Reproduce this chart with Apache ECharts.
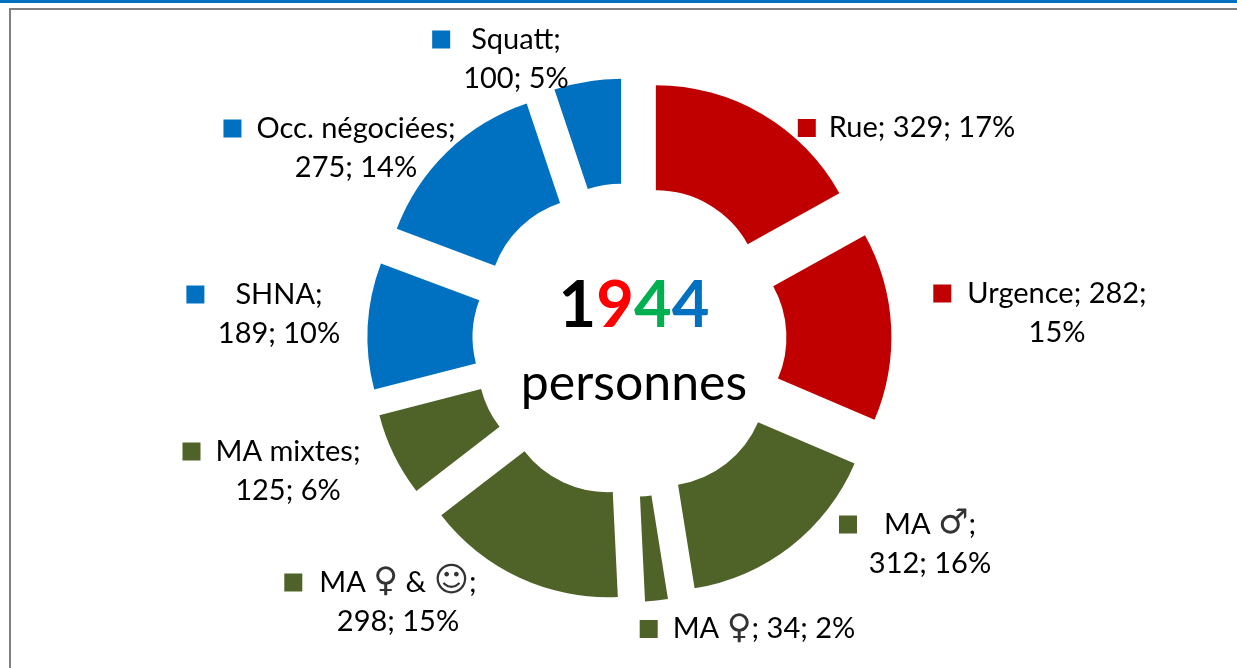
<!DOCTYPE html>
<html>
<head>
<meta charset="utf-8">
<style>
  html, body { margin: 0; padding: 0; background: #fff; }
  #main { width: 1237px; height: 668px; }
</style>
<script src="https://cdn.jsdelivr.net/npm/echarts@6/dist/echarts.min.js"></script>
</head>
<body>
<div id="main"></div>
<script>
const FONT = 'Lato, "DejaVu Sans", sans-serif';
const SYMBOL_FONT = '"DejaVu Sans", sans-serif';

const categories = ['Rue', 'Urgence', 'MA ♂', 'MA ♀', 'MA ♀ & ☺', 'MA mixtes', 'SHNA', 'Occ. négociées', 'Squatt'];
const values = [329, 282, 312, 34, 298, 125, 189, 275, 100];
const colors = ['#C00000', '#C00000', '#4F6228', '#4F6228', '#4F6228', '#4F6228', '#0070C0', '#0070C0', '#0070C0'];

// where each label wraps: 0 = no wrap, 1 = after the name, 2 = after the value
const labelWraps = [0, 2, 1, 0, 1, 1, 1, 1, 1];
const labelCentersX = [922, 1057, 930, 764, 398, 288, 279, 356, 516];
const labelCentersY = [128, 313, 544, 629, 602, 471, 314, 148, 59];
const squareGaps = [13, 16, 27, 15, 17, 15, 31, 15, 21];

const totalDigits = ['1', '9', '4', '4'];
const digitColors = ['#000000', '#FF0000', '#00B050', '#0070C0'];
const centerWord = 'personnes';

const chart = echarts.init(document.getElementById('main'));

function labelText(params) {
  const i = params.dataIndex;
  // gender signs come out too small in Lato, so they get their own style
  const name = params.name.replace(/[♂♀☺]/g, c => '}{s|' + c + '}{t|') + ';';
  const val = params.value + ';';
  const pct = params.percent + '%';
  const lead = '{sq|}{g' + i + '|}';
  const trail = '{g' + i + '|}{sp|}';
  if (labelWraps[i] === 1) return lead + '{t|' + name + '}' + trail + '\n{t|' + val + ' ' + pct + '}';
  if (labelWraps[i] === 2) return lead + '{t|' + name + ' ' + val + '}' + trail + '\n{t|' + pct + '}';
  return lead + '{t|' + name + ' ' + val + ' ' + pct + '}' + trail;
}

// exploded slices: selected offset moves the labels too, so they sit on a second, invisible ring
const sliceData = categories.map((name, i) => ({
  name,
  value: values[i],
  selected: true,
  itemStyle: { color: colors[i] },
}));

const labelData = categories.map((name, i) => {
  const rich = {
    t: { fontFamily: FONT, fontSize: 29, lineHeight: 39, color: '#000' },
    s: { fontFamily: SYMBOL_FONT, fontSize: 34, lineHeight: 39, color: '#333' },
    sq: { width: 18, height: 18, backgroundColor: colors[i] },
    sp: { width: 18, height: 18 },
  };
  rich['g' + i] = { width: squareGaps[i], height: 18 };
  return { name, value: values[i], label: { rich } };
});

chart.setOption({
  animation: false,
  title: {
    left: 629,
    top: 261,
    textAlign: 'center',
    text: totalDigits.map((d, i) => '{d' + i + '|' + d + '}').join('') + '\n{w|' + centerWord + '}',
    textStyle: {
      rich: Object.assign(
        { w: { fontFamily: FONT, fontSize: 50, fontWeight: 'normal', lineHeight: 76, color: '#000' } },
        Object.fromEntries(digitColors.map((c, i) => ['d' + i, {
          fontFamily: FONT, fontSize: 65, fontWeight: 'bold', lineHeight: 80, color: c,
        }]))
      ),
    },
  },
  graphic: [
    { type: 'rect', shape: { x: 0, y: 0, width: 1237, height: 3 }, style: { fill: '#0070C0' } },
    { type: 'rect', shape: { x: 9, y: 8, width: 1228, height: 2 }, style: { fill: '#808080' } },
    { type: 'rect', shape: { x: 9, y: 8, width: 2, height: 660 }, style: { fill: '#808080' } },
  ],
  series: [
    {
      type: 'pie',
      center: [629.5, 340],
      radius: [105, 210],
      startAngle: 90,
      selectedMode: 'multiple',
      selectedOffset: 52,
      label: { show: false },
      labelLine: { show: false },
      data: sliceData,
    },
    {
      type: 'pie',
      center: [629.5, 340],
      radius: [105, 210],
      startAngle: 90,
      percentPrecision: 0,
      silent: true,
      z: 3,
      itemStyle: { color: 'transparent' },
      avoidLabelOverlap: false,
      label: { show: true, position: 'inside', align: 'center', verticalAlign: 'middle', formatter: labelText },
      labelLine: { show: false },
      labelLayout: params => ({
        x: labelCentersX[params.dataIndex],
        y: labelCentersY[params.dataIndex],
      }),
      data: labelData,
    },
  ],
});
</script>
</body>
</html>
